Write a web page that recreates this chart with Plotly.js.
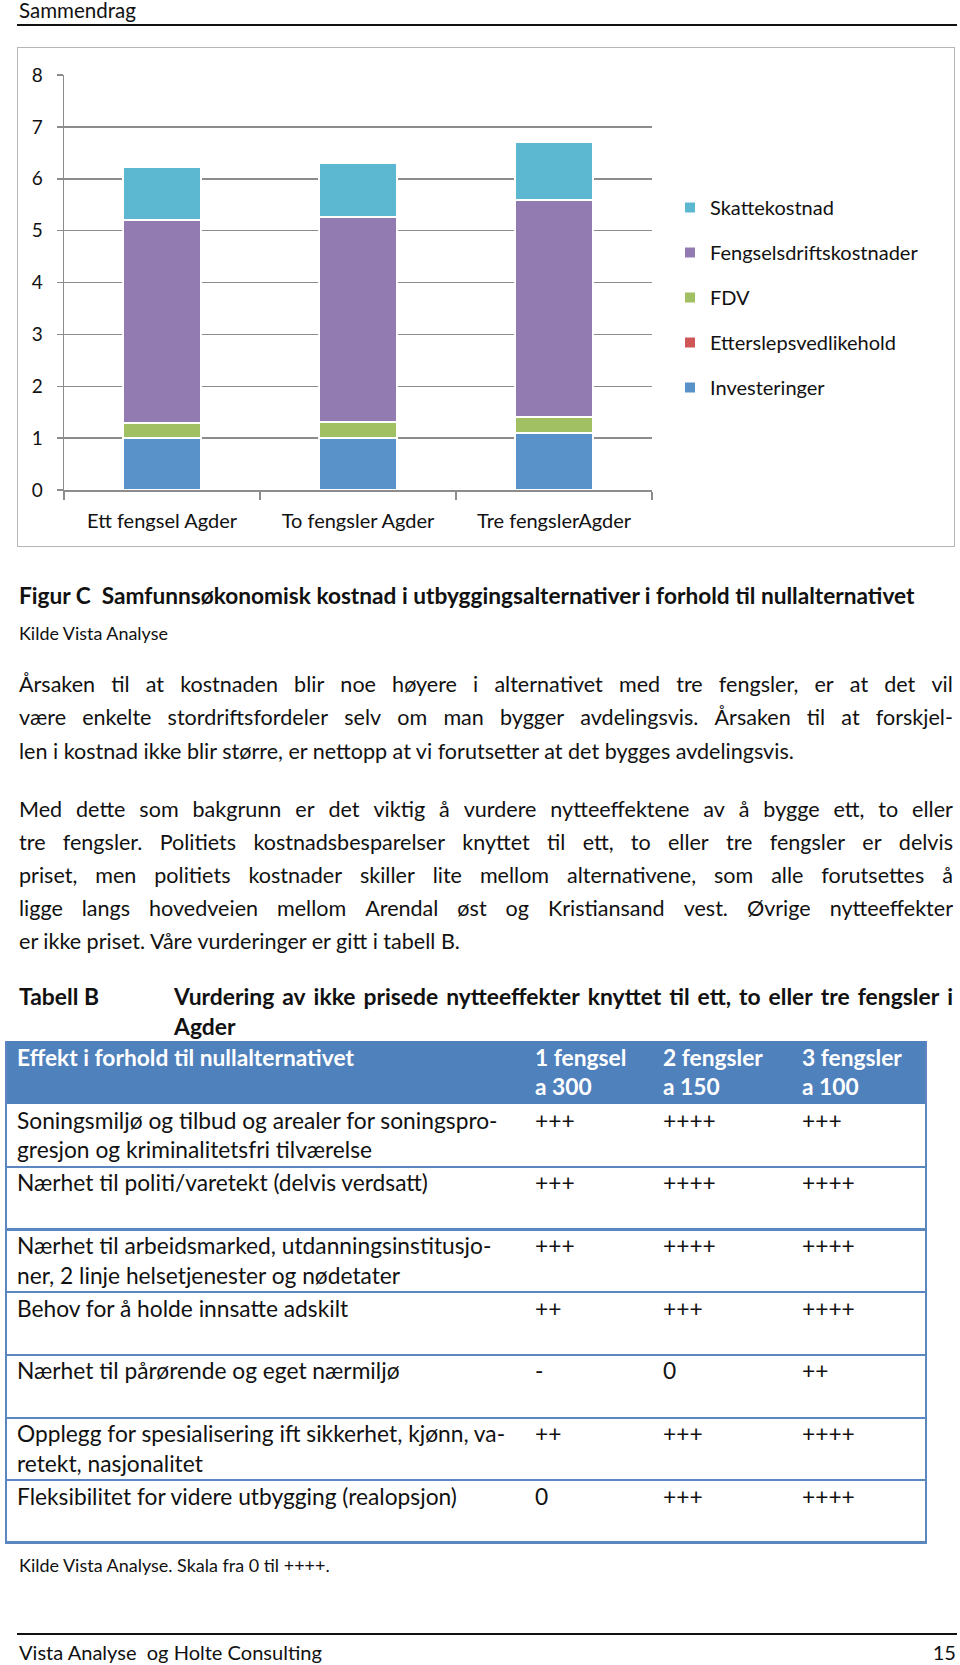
<!DOCTYPE html>
<html><head><meta charset="utf-8">
<script src="https://cdn.plot.ly/plotly-3.0.1.min.js"></script>
<style>
html,body{margin:0;padding:0;background:#fff}
body{width:960px;height:1665px;position:relative;overflow:hidden;font-family:Lato,"Open Sans",sans-serif;color:#111}
.t{position:absolute;white-space:pre;line-height:1.2}
.jl{position:absolute;display:flex;justify-content:space-between;white-space:pre;line-height:1.2}
.rule{position:absolute;background:#111}
#frame{position:absolute;left:17px;top:47px;width:938px;height:500px;box-sizing:border-box;border:1.5px solid #b5b5b5}
#chart{position:absolute;left:17px;top:47px;width:938px;height:500px}
.cell{position:absolute}
</style></head><body>
<div id="frame"></div>
<div id="chart"></div>
<script>
// ---------- chart data ----------
const categories = ["Ett fengsel Agder", "To fengsler Agder", "Tre fengslerAgder"];
const investeringer = [1.01, 1.01, 1.09];
const etterslepsvedlikehold = [0, 0, 0];
const fdv = [0.29, 0.31, 0.32];
const fengselsdriftskostnader = [3.91, 3.94, 4.18];
const skattekostnad = [1.02, 1.05, 1.11];
const seriesNames = ["Investeringer", "Etterslepsvedlikehold", "FDV", "Fengselsdriftskostnader", "Skattekostnad"];
const seriesColors = ["#5992c9", "#cf5757", "#a0c063", "#927bb0", "#5bb8d0"];
const yTicks = [0, 1, 2, 3, 4, 5, 6, 7, 8];

// ---------- table data ----------
const tableHeader = [["Effekt i forhold til nullalternativet"], ["1 fengsel", "a 300"], ["2 fengsler", "a 150"], ["3 fengsler", "a 100"]];
const effects = [
  ["Soningsmiljø og tilbud og arealer for soningspro-", "gresjon og kriminalitetsfri tilværelse"],
  ["Nærhet til politi/varetekt (delvis verdsatt)"],
  ["Nærhet til arbeidsmarked, utdanningsinstitusjo-", "ner, 2 linje helsetjenester og nødetater"],
  ["Behov for å holde innsatte adskilt"],
  ["Nærhet til pårørende og eget nærmiljø"],
  ["Opplegg for spesialisering ift sikkerhet, kjønn, va-", "retekt, nasjonalitet"],
  ["Fleksibilitet for videre utbygging (realopsjon)"]
];
const oneFengsel = ["+++", "+++", "+++", "++", "-", "++", "0"];
const twoFengsler = ["++++", "++++", "++++", "+++", "0", "+++", "+++"];
const threeFengsler = ["+++", "++++", "++++", "++++", "++", "++++", "++++"];

// ---------- text ----------
const para1 = [
  "Årsaken til at kostnaden blir noe høyere i alternativet med tre fengsler, er at det vil",
  "være enkelte stordriftsfordeler selv om man bygger avdelingsvis. Årsaken til at forskjel-",
  "len i kostnad ikke blir større, er nettopp at vi forutsetter at det bygges avdelingsvis."
];
const para2 = [
  "Med dette som bakgrunn er det viktig å vurdere nytteeffektene av å bygge ett, to eller",
  "tre fengsler. Politiets kostnadsbesparelser knyttet til ett, to eller tre fengsler er delvis",
  "priset, men politiets kostnader skiller lite mellom alternativene, som alle forutsettes å",
  "ligge langs hovedveien mellom Arendal øst og Kristiansand vest. Øvrige nytteeffekter",
  "er ikke priset. Våre vurderinger er gitt i tabell B."
];

// ---------- chart ----------
const ys = [investeringer, etterslepsvedlikehold, fdv, fengselsdriftskostnader, skattekostnad];
const traces = seriesNames.map((n, i) => ({
  type: "bar", name: n, x: categories, y: ys[i], legendgroup: "g" + i,
  legendrank: seriesNames.length - i,
  marker: {color: seriesColors[i], line: {color: "#ffffff", width: 2}},
  hoverinfo: "skip"
}));
const layout = {
  width: 938, height: 500,
  margin: {l: 47, r: 303, t: 28, b: 57},
  barmode: "stack", bargap: 0.6,
  paper_bgcolor: "rgba(0,0,0,0)", plot_bgcolor: "rgba(0,0,0,0)",
  font: {family: "Lato, sans-serif", size: 18, color: "#111"},
  xaxis: {type: "category", showgrid: false, showline: true, linecolor: "#8c8c8c", linewidth: 1.5,
    ticks: "outside", tickson: "boundaries", ticklen: 8, tickcolor: "#8c8c8c", tickwidth: 1.5,
    ticklabelstandoff: 12, tickfont: {size: 20}, fixedrange: true},
  yaxis: {range: [0, 8], tickvals: yTicks, showgrid: true, gridcolor: "#8c8c8c", gridwidth: 1.5,
    showline: true, linecolor: "#8c8c8c", linewidth: 1.5, ticks: "outside", ticklen: 6,
    tickcolor: "#8c8c8c", tickwidth: 1.5, ticklabelstandoff: 10, tickfont: {size: 19}, zeroline: false, fixedrange: true},
  showlegend: true,
  legend: {x: 1.0306, xanchor: "left", y: 0.464, yanchor: "middle", font: {size: 20},
    tracegroupgap: 16, traceorder: "grouped", bgcolor: "rgba(0,0,0,0)"}
};
Plotly.newPlot("chart", traces, layout, {staticPlot: true, displayModeBar: false});

// ---------- page text helpers ----------
function txt(s, x, cy, size, o) {
  o = o || {};
  const d = document.createElement("div");
  d.className = "t";
  d.textContent = s;
  if (o.right !== undefined) d.style.right = o.right + "px"; else d.style.left = x + "px";
  d.style.fontSize = size + "px";
  if (o.bold) d.style.fontWeight = "700";
  if (o.color) d.style.color = o.color;
  d.dataset.cy = cy;
  document.body.appendChild(d);
  setTop(d);
  return d;
}
function jline(s, x, w, cy, size, o) {
  o = o || {};
  const d = document.createElement("div");
  d.className = "jl";
  d.style.left = x + "px"; d.style.width = w + "px";
  d.style.fontSize = size + "px";
  if (o.bold) d.style.fontWeight = "700";
  s.split(" ").forEach(wd => { const sp = document.createElement("span"); sp.textContent = wd; d.appendChild(sp); });
  d.dataset.cy = cy;
  document.body.appendChild(d);
  setTop(d);
  return d;
}
function setTop(d) { const s = parseFloat(d.style.fontSize); d.style.top = (parseFloat(d.dataset.cy) - 0.585 * s) + "px"; }
function fit(ref, targetW, group) {
  const w = ref.getBoundingClientRect().width;
  const s = parseFloat(ref.style.fontSize) * targetW / w;
  (group || [ref]).forEach(g => { g.style.fontSize = s + "px"; setTop(g); });
}
function rule(x, y, w, h, c) {
  const d = document.createElement("div");
  d.className = "rule";
  d.style.left = x + "px"; d.style.top = y + "px"; d.style.width = w + "px"; d.style.height = h + "px";
  if (c) d.style.background = c;
  document.body.appendChild(d);
  return d;
}

function build() {
  // header
  const hdr = txt("Sammendrag", 19, 9.5, 20);
  fit(hdr, 117);
  rule(17, 23.5, 940, 2.5);

  // caption
  const cap = txt("Figur C  Samfunnsøkonomisk kostnad i utbyggingsalternativer i forhold til nullalternativet", 19, 595, 20, {bold: true});
  fit(cap, 896);
  const kil = txt("Kilde Vista Analyse", 19, 633, 15);
  fit(kil, 149);

  // paragraph 1
  const L = 19, PW = 934;
  const p1y = [685, 718, 752];
  const p1last = txt(para1[2], L, p1y[2], 20);
  fit(p1last, 775);
  const ps = parseFloat(p1last.style.fontSize);
  jline(para1[0], L, PW, p1y[0], ps);
  jline(para1[1], L, PW, p1y[1], ps);
  const p2y = [810, 843, 876, 909, 942];
  for (let i = 0; i < 4; i++) jline(para2[i], L, PW, p2y[i], ps);
  txt(para2[4], L, p2y[4], ps);

  // table title
  const tb = txt("Tabell B", 19, 996, 20, {bold: true});
  const ag = txt("Agder", 174, 1026, 20, {bold: true});
  fit(tb, 80, [tb, ag]);
  const ts = parseFloat(tb.style.fontSize);
  jline("Vurdering av ikke prisede nytteeffekter knyttet til ett, to eller tre fengsler i", 174, 779, 996, ts, {bold: true});

  // table
  const tx = 5, tw = 922, top = 1041, hh = 63, rh = 62.7;
  const colX = [17, 535, 663, 802];
  const blue = "#4f81bd", lineBlue = "#5b86bf";
  const hb = document.createElement("div");
  hb.className = "cell";
  Object.assign(hb.style, {left: tx + "px", top: top + "px", width: tw + "px", height: hh + "px", background: blue});
  document.body.appendChild(hb);
  const headEls = [];
  tableHeader.forEach((lines, c) => lines.forEach((ln, k) => headEls.push(txt(ln, colX[c], top + 16 + k * 29.5, 20, {color: "#ffffff", bold: true}))));
  fit(headEls[0], 337, headEls);

  const bodyEls = [];
  const cols = [oneFengsel, twoFengsler, threeFengsler];
  effects.forEach((lines, r) => {
    const rt = top + hh + r * rh;
    lines.forEach((ln, k) => bodyEls.push(txt(ln, colX[0], rt + 16 + k * 29.5, 20)));
    cols.forEach((col, c) => bodyEls.push(txt(col[r], colX[c + 1], rt + 16, 20)));
    if (r > 0) rule(tx, rt - 1, tw, 2.2, lineBlue);
  });
  fit(bodyEls[2 + 3], 411, bodyEls);
  const bottom = top + hh + effects.length * rh;
  rule(tx, top, 2.2, bottom - top, lineBlue);
  rule(tx + tw - 2.2, top, 2.2, bottom - top, lineBlue);
  rule(tx, bottom - 1.5, tw, 2.2, lineBlue);

  // notes and footer
  const k2 = txt("Kilde Vista Analyse. Skala fra 0 til ++++.", 19, 1566, 15);
  fit(k2, 311);
  rule(17, 1632.5, 940, 2.5);
  const ft = txt("Vista Analyse  og Holte Consulting", 19, 1652, 19);
  fit(ft, 303);
  txt("15", 0, 1652, parseFloat(ft.style.fontSize), {right: 4});
}
build();
</script>
</body></html>
